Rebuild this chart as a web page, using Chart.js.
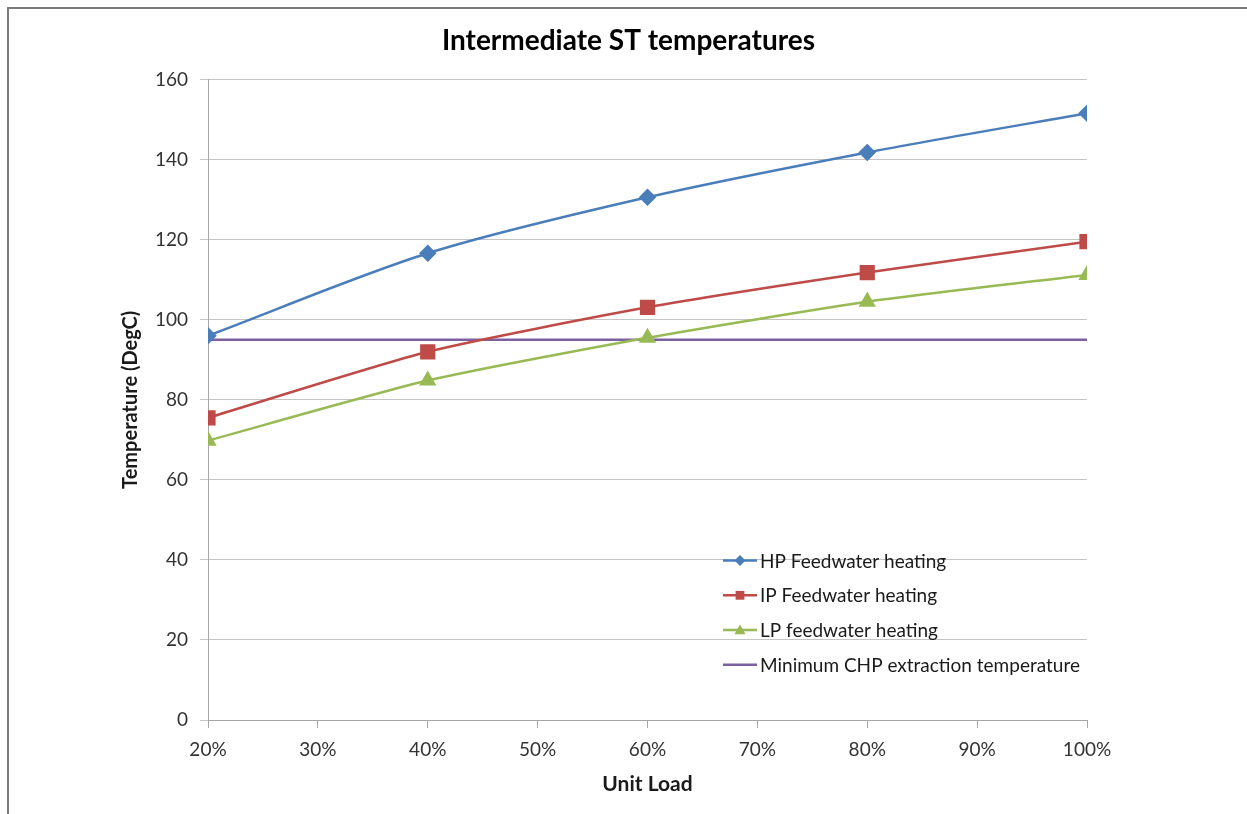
<!DOCTYPE html>
<html>
<head>
<meta charset="utf-8">
<script src="https://cdn.jsdelivr.net/npm/chart.js@4.4.1/dist/chart.umd.min.js"></script>
<style>
  body { margin: 0; background: #fff; }
  #wrap { position: relative; width: 1247px; height: 814px; }
  #frame { position: absolute; left: 7px; top: 7px; right: 0; bottom: 0;
           border-left: 2px solid #7a7a7a; border-top: 2px solid #7a7a7a; pointer-events: none; }
  canvas { position: absolute; left: 0; top: 0; }
</style>
</head>
<body>
<div id="wrap">
  <canvas id="chart" width="1247" height="814"></canvas>
  <div id="frame"></div>
</div>
<script>
// unit load (%) and temperatures (DegC)
const loads = [20, 40, 60, 80, 100];
const hpTemps = [96, 116.6, 130.6, 141.8, 151.6];
const ipTemps = [75.5, 92, 103.1, 111.8, 119.5];
const lpTemps = [69.8, 84.8, 95.5, 104.5, 111.2];
const minChpTemps = [95, 95, 95, 95, 95];
const seriesNames = ["HP Feedwater heating", "IP Feedwater heating", "LP feedwater heating", "Minimum CHP extraction temperature"];

const toPoints = (vals) => vals.map((v, i) => ({ x: loads[i], y: v }));

// draws the small marker used in the legend
function drawMarker(ctx, style, x, y, s, color) {
  ctx.fillStyle = color;
  ctx.beginPath();
  if (style === 'rectRot') {
    ctx.moveTo(x, y - s); ctx.lineTo(x + s, y); ctx.lineTo(x, y + s); ctx.lineTo(x - s, y);
  } else if (style === 'rect') {
    ctx.rect(x - s * 0.8, y - s * 0.8, s * 1.6, s * 1.6);
  } else if (style === 'triangle') {
    ctx.moveTo(x, y - s); ctx.lineTo(x + s, y + s * 0.75); ctx.lineTo(x - s, y + s * 0.75);
  }
  ctx.closePath();
  ctx.fill();
}

// legend sits inside the plot, lower right
const insideLegend = {
  id: 'insideLegend',
  afterDraw(chart) {
    const { ctx, chartArea } = chart;
    const x0 = chartArea.left + 515;
    const y0 = chartArea.top + 481;
    ctx.save();
    ctx.font = '19px Lato';
    ctx.textBaseline = 'middle';
    ctx.textAlign = 'left';
    chart.data.datasets.forEach((ds, i) => {
      const y = y0 + i * 34.7;
      ctx.strokeStyle = ds.borderColor;
      ctx.lineWidth = ds.borderWidth;
      ctx.beginPath();
      ctx.moveTo(x0, y);
      ctx.lineTo(x0 + 34, y);
      ctx.stroke();
      if (ds.pointRadius > 0) drawMarker(ctx, ds.pointStyle, x0 + 17, y, 5.5, ds.backgroundColor);
      ctx.fillStyle = '#1a1a1a';
      ctx.fillText(ds.label, x0 + 37, y + 1);
    });
    ctx.restore();
  }
};

new Chart(document.getElementById("chart"), {
  type: 'line',
  data: {
    datasets: [
      {
        label: seriesNames[0],
        data: toPoints(hpTemps),
        borderColor: '#4a7ebb',
        backgroundColor: '#4a7ebb',
        borderWidth: 2.5,
        pointStyle: 'rectRot',
        pointRadius: 7,
        tension: 0.3
      },
      {
        label: seriesNames[1],
        data: toPoints(ipTemps),
        borderColor: '#be4b48',
        backgroundColor: '#be4b48',
        borderWidth: 2.5,
        pointStyle: 'rect',
        pointRadius: 9,
        tension: 0.2
      },
      {
        label: seriesNames[2],
        data: toPoints(lpTemps),
        borderColor: '#98b954',
        backgroundColor: '#98b954',
        borderWidth: 2.5,
        pointStyle: 'triangle',
        pointRadius: 7.5,
        tension: 0.2
      },
      {
        label: seriesNames[3],
        data: toPoints(minChpTemps),
        borderColor: '#7d60a0',
        backgroundColor: '#7d60a0',
        borderWidth: 2.5,
        pointRadius: 0,
        tension: 0
      }
    ]
  },
  options: {
    responsive: false,
    animation: false,
    devicePixelRatio: 1,
    layout: { padding: { left: 10, top: 10, right: 0, bottom: 0 } },
    plugins: {
      legend: { display: false },
      tooltip: { enabled: false },
      title: {
        display: true,
        text: "Intermediate ST temperatures",
        color: '#000',
        font: { family: 'Lato', size: 28, weight: 'bold' },
        padding: { top: 14, bottom: 22 }
      }
    },
    scales: {
      x: {
        type: 'linear',
        min: 20,
        max: 100,
        ticks: {
          stepSize: 10,
          padding: 10,
          color: '#333',
          font: { family: 'Lato', size: 19 },
          callback: (v) => v + '%'
        },
        grid: { drawOnChartArea: false, drawTicks: true, tickLength: 8, color: '#a6a6a6' },
        border: { color: '#a6a6a6' },
        title: {
          display: true,
          text: "Unit Load",
          color: '#1a1a1a',
          font: { family: 'Lato', size: 21, weight: 'bold' },
          padding: { top: 0, bottom: 17 }
        },
        afterFit(s) { s.height = 94; }
      },
      y: {
        min: 0,
        max: 160,
        ticks: {
          stepSize: 20,
          padding: 12,
          color: '#333',
          font: { family: 'Lato', size: 19 }
        },
        grid: { color: '#c4c4c4', tickLength: 8 },
        border: { color: '#a6a6a6' },
        title: {
          display: true,
          text: "Temperature (DegC)",
          color: '#1a1a1a',
          font: { family: 'Lato', size: 20, weight: 'bold' },
          padding: { top: 109, bottom: 0 }
        },
        afterFit(s) { s.width = 198; }
      },
      spacer: {
        position: 'right',
        display: true,
        grid: { display: false },
        border: { display: false },
        ticks: { display: false },
        afterFit(s) { s.width = 160; }
      }
    }
  },
  plugins: [insideLegend]
});
</script>
</body>
</html>
